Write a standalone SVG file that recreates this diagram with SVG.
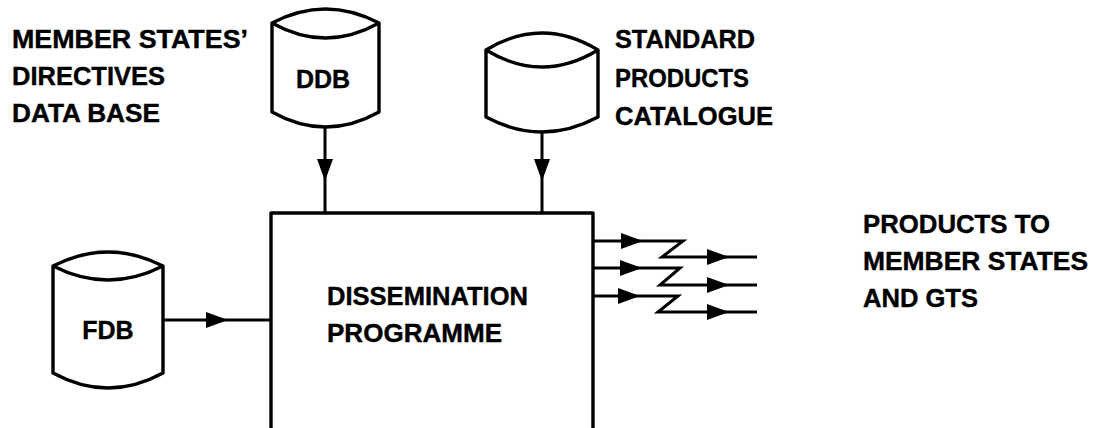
<svg xmlns="http://www.w3.org/2000/svg" xmlns:xlink="http://www.w3.org/1999/xlink" width="1097" height="428" viewBox="0 0 1097 428">
<style>
.bg{fill:#ffffff}
.shape{fill:#ffffff;stroke:#000000;stroke-width:3.4;stroke-linejoin:round}
.line{fill:none;stroke:#000000;stroke-width:3;stroke-linejoin:miter}
.lbl{font-family:"Liberation Sans",Arial,Helvetica,sans-serif;font-weight:bold;font-size:25px;fill:#000000;stroke:#000000;stroke-width:0.4}
</style>
<defs>
<path id="ah" d="M0,0 L-22,-8 L-22,8 Z" fill="#000000"/>
</defs>
<rect class="bg" x="0" y="0" width="1097" height="428"/>

<g id="labels">
<text class="lbl" x="12" y="48" textLength="236" lengthAdjust="spacingAndGlyphs">MEMBER STATES’</text>
<text class="lbl" x="12" y="85" textLength="153" lengthAdjust="spacingAndGlyphs">DIRECTIVES</text>
<text class="lbl" x="12" y="122" textLength="148" lengthAdjust="spacingAndGlyphs">DATA BASE</text>
<text class="lbl" x="615" y="48" textLength="140" lengthAdjust="spacingAndGlyphs">STANDARD</text>
<text class="lbl" x="615" y="87" textLength="134" lengthAdjust="spacingAndGlyphs">PRODUCTS</text>
<text class="lbl" x="615" y="125" textLength="158" lengthAdjust="spacingAndGlyphs">CATALOGUE</text>
<text class="lbl" x="863" y="233" textLength="187" lengthAdjust="spacingAndGlyphs">PRODUCTS TO</text>
<text class="lbl" x="863" y="270" textLength="225" lengthAdjust="spacingAndGlyphs">MEMBER STATES</text>
<text class="lbl" x="863" y="307" textLength="115" lengthAdjust="spacingAndGlyphs">AND GTS</text>
</g>

<g id="connectors">
<path class="line" d="M325,127 V213"/>
<use xlink:href="#ah" transform="translate(325,181) rotate(90)"/>
<path class="line" d="M542,132 V213"/>
<use xlink:href="#ah" transform="translate(542,181) rotate(90)"/>
<path class="line" d="M162,320 H271"/>
<use xlink:href="#ah" transform="translate(228,320)"/>
<path class="line" d="M593,241 H683 L662,257 H757"/>
<use xlink:href="#ah" transform="translate(643,241)"/>
<use xlink:href="#ah" transform="translate(729,257)"/>
<path class="line" d="M593,268 H680 L660,285 H757"/>
<use xlink:href="#ah" transform="translate(642,268)"/>
<use xlink:href="#ah" transform="translate(729,285)"/>
<path class="line" d="M593,296 H678 L658,312 H757"/>
<use xlink:href="#ah" transform="translate(640,296)"/>
<use xlink:href="#ah" transform="translate(729,312)"/>
</g>

<g id="ddb">
<path class="shape" d="M272,23 V112 Q325.5,142 379,112 V23 Q325.5,-5 272,23 Z"/>
<path class="shape" d="M272,23 Q325.5,53 379,23" fill="none"/>
<text class="lbl" x="323" y="88" text-anchor="middle">DDB</text>
</g>

<g id="catalogue">
<path class="shape" d="M486,50 V117 Q542,147 598,117 V50 Q542,16 486,50 Z"/>
<path class="shape" d="M486,50 Q542,84 598,50" fill="none"/>
</g>

<g id="fdb">
<path class="shape" d="M53,266 V373 Q108,403 163,373 V266 Q108,238 53,266 Z"/>
<path class="shape" d="M53,266 Q108,294 163,266" fill="none"/>
<text class="lbl" x="108" y="339" text-anchor="middle">FDB</text>
</g>

<g id="programme">
<path class="shape" d="M271,430 V213 H593 V430"/>
<text class="lbl" x="327" y="305" textLength="201" lengthAdjust="spacingAndGlyphs">DISSEMINATION</text>
<text class="lbl" x="327" y="342" textLength="175" lengthAdjust="spacingAndGlyphs">PROGRAMME</text>
</g>
</svg>
